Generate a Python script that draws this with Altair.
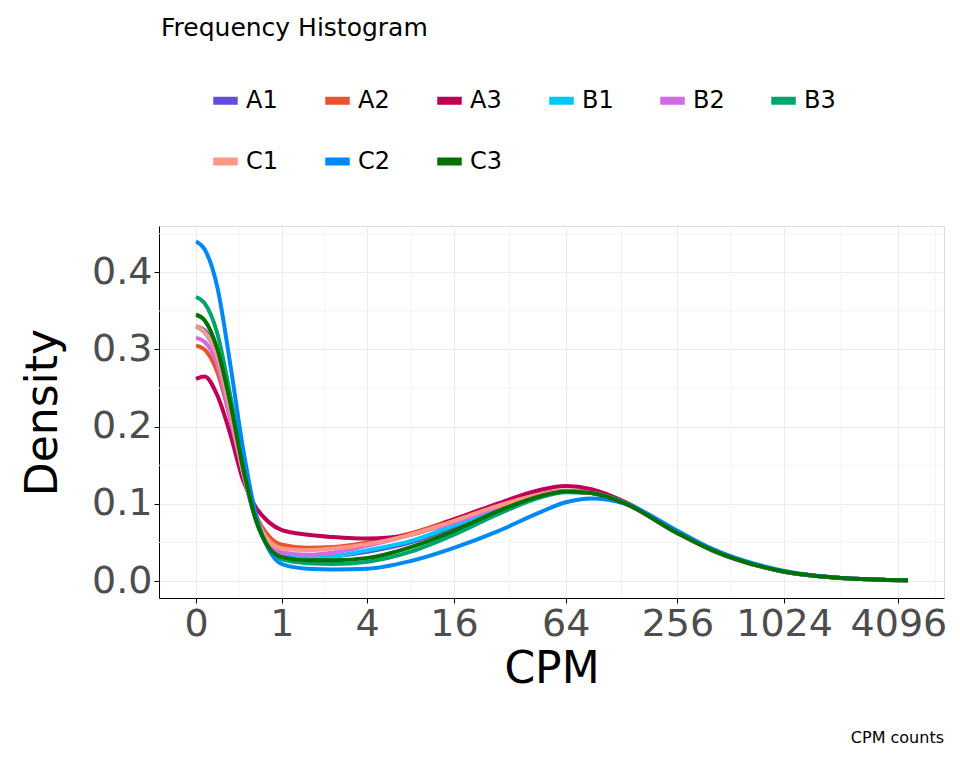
import altair as alt
import pandas as pd

# position on the (transformed) x axis and the density of each sample
t = [0, 0.1, 0.25, 0.4, 0.55, 0.7, 0.85, 1, 1.3, 1.6, 2, 2.5, 3, 3.5, 4, 4.3, 4.6, 5, 5.6, 6, 6.8, 7.5, 8.28]
series = {
    "A1": [0.330, 0.325, 0.29, 0.22, 0.14, 0.080, 0.048, 0.036, 0.031, 0.032, 0.038, 0.050, 0.070, 0.092, 0.110, 0.116, 0.114, 0.100, 0.062, 0.040, 0.013, 0.004, 0.001],
    "A2": [0.305, 0.300, 0.27, 0.21, 0.14, 0.085, 0.058, 0.047, 0.043, 0.044, 0.050, 0.062, 0.080, 0.098, 0.113, 0.117, 0.115, 0.100, 0.062, 0.040, 0.013, 0.004, 0.001],
    "A3": [0.262, 0.265, 0.24, 0.19, 0.13, 0.095, 0.076, 0.066, 0.060, 0.057, 0.055, 0.060, 0.080, 0.100, 0.118, 0.123, 0.119, 0.102, 0.063, 0.040, 0.013, 0.004, 0.001],
    "B1": [0.330, 0.322, 0.29, 0.22, 0.14, 0.078, 0.045, 0.033, 0.030, 0.032, 0.040, 0.052, 0.072, 0.093, 0.111, 0.116, 0.114, 0.100, 0.062, 0.040, 0.013, 0.004, 0.001],
    "B2": [0.315, 0.310, 0.28, 0.21, 0.14, 0.080, 0.048, 0.037, 0.034, 0.037, 0.046, 0.060, 0.076, 0.095, 0.112, 0.116, 0.114, 0.100, 0.062, 0.040, 0.013, 0.004, 0.001],
    "B3": [0.368, 0.360, 0.32, 0.24, 0.15, 0.080, 0.042, 0.028, 0.023, 0.022, 0.025, 0.038, 0.060, 0.086, 0.108, 0.115, 0.114, 0.101, 0.063, 0.041, 0.013, 0.004, 0.001],
    "C1": [0.330, 0.323, 0.29, 0.22, 0.14, 0.082, 0.052, 0.042, 0.040, 0.042, 0.048, 0.060, 0.078, 0.097, 0.112, 0.116, 0.114, 0.100, 0.062, 0.040, 0.013, 0.004, 0.001],
    "C2": [0.440, 0.430, 0.38, 0.28, 0.17, 0.085, 0.040, 0.022, 0.016, 0.015, 0.016, 0.026, 0.043, 0.064, 0.089, 0.102, 0.107, 0.100, 0.065, 0.042, 0.014, 0.004, 0.001],
    "C3": [0.345, 0.338, 0.30, 0.23, 0.145, 0.078, 0.043, 0.031, 0.027, 0.027, 0.030, 0.044, 0.065, 0.090, 0.110, 0.116, 0.114, 0.100, 0.062, 0.040, 0.013, 0.004, 0.001],
}
colors = ["#6050DC", "#E8552D", "#BE0056", "#00C8F5", "#D26AE6", "#00A56E", "#FF9688", "#0088F5", "#007200"]

tick_pos = [0, 1, 1.99, 3.0, 4.3, 5.6, 6.84, 8.17]
tick_lab = ["0", "1", "4", "16", "64", "256", "1024", "4096"]
minor_x = [0.5, 1.5, 2.5, 3.65, 4.95, 6.22, 7.5, 8.6]
minor_y = [0.05, 0.15, 0.25, 0.35, 0.45]

rows = []
for name, vals in series.items():
    for tv, d in zip(t, vals):
        rows.append({"t": tv, "density": d, "sample": name})
df = pd.DataFrame(rows)

label_expr = "''"
for p, l in zip(tick_pos, tick_lab):
    label_expr = f"abs(datum.value - {p}) < 0.01 ? '{l}' : ({label_expr})"

xs = alt.Scale(domain=[-0.43, 8.7], nice=False, zero=False)
ys = alt.Scale(domain=[-0.022, 0.46], nice=False, zero=False)

minor_v = alt.Chart(pd.DataFrame({"m": minor_x})).mark_rule(color="#F3F3F3", strokeWidth=1).encode(x=alt.X("m:Q", scale=xs))
minor_h = alt.Chart(pd.DataFrame({"m": minor_y})).mark_rule(color="#F3F3F3", strokeWidth=1).encode(y=alt.Y("m:Q", scale=ys))

lines = alt.Chart(df).mark_line(strokeWidth=4, interpolate="monotone").encode(
    x=alt.X("t:Q", scale=xs, title="CPM",
            axis=alt.Axis(values=tick_pos, labelExpr=label_expr, labelFontSize=38, titleFontSize=44,
                          labelColor="#4D4D4D", titleColor="black", titleFontWeight="normal",
                          domainColor="black", tickColor="black", gridColor="#EBEBEB", labelFlush=False)),
    y=alt.Y("density:Q", scale=ys, title="Density",
            axis=alt.Axis(values=[0, 0.1, 0.2, 0.3, 0.4], format=".1f", labelFontSize=38, titleFontSize=44,
                          labelColor="#4D4D4D", titleColor="black", titleFontWeight="normal", titlePadding=26,
                          domainColor="black", tickColor="black", gridColor="#EBEBEB")),
    color=alt.Color("sample:N", scale=alt.Scale(domain=list(series.keys()), range=colors),
                    legend=alt.Legend(title=None, orient="none", legendX=50, legendY=-142,
                                      direction="horizontal", columns=6, labelFontSize=24,
                                      symbolType="stroke", symbolStrokeWidth=8, symbolSize=600,
                                      rowPadding=28, columnPadding=30)),
)

caption = alt.Chart(pd.DataFrame({"c": ["CPM counts"]})).mark_text(
    align="right", baseline="middle", fontSize=16, color="black"
).encode(text="c:N", x=alt.value(785), y=alt.value(512))

heading = alt.Chart(pd.DataFrame({"c": ["Frequency Histogram"]})).mark_text(
    align="left", baseline="middle", fontSize=25, color="black"
).encode(text="c:N", x=alt.value(2), y=alt.value(-198))

chart = alt.layer(minor_v, minor_h, lines, caption, heading).properties(
    width=785, height=372,
    padding={"left": 13, "top": 8, "right": 5, "bottom": 5},
).configure_view(stroke=None).configure(font="DejaVu Sans")

chart.save("out.html", embed_options={"renderer": "svg", "actions": False})
